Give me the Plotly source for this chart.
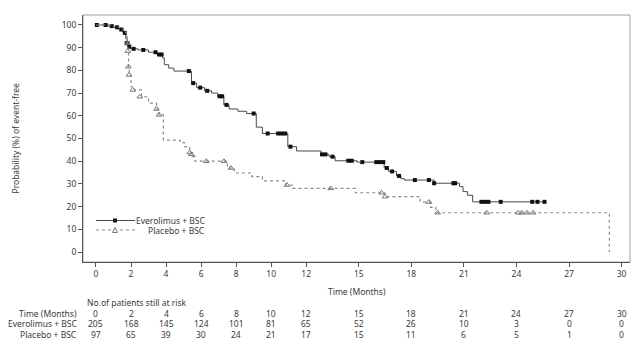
import plotly.graph_objects as go

# ---------------- data ----------------
evero_time = [0, 0.7, 1.0, 1.3, 1.55, 1.7, 1.78, 1.85, 1.95, 2.4, 3.0, 3.5, 3.8, 3.9, 4.15, 4.45,
              5.45, 5.75, 6.2, 6.6, 6.95, 7.3, 7.6, 8.1, 8.6, 9.15, 9.5, 10.95, 11.45, 12.85, 13.3,
              13.65, 14.9, 16.45, 16.7, 17.15, 17.4, 17.6, 19.3, 20.75, 20.95, 21.2, 21.5]
evero_surv = [100, 99.5, 99, 98, 96.5, 94, 92, 90.5, 89.5, 89, 88, 87, 85.5, 82.5, 81, 79.7,
              74.4, 72.4, 71, 70, 68.6, 64.8, 63, 62, 61, 55, 52.2, 46.4, 44.5, 43, 42,
              40.2, 39.6, 37, 35.5, 33.5, 32.3, 31.7, 30.3, 28.8, 26.6, 25, 22.1]
evero_last_followup = 25.6

evero_cens_t = [0.05, 0.55, 0.9, 1.2, 1.45, 1.65, 1.75, 1.8, 1.9, 2.15, 2.7, 3.4, 3.6, 3.75, 5.3, 5.55,
                5.95, 6.35, 7.05, 7.2, 7.45, 9.0, 9.8, 10.4, 10.6, 10.8, 11.1, 12.9, 13.1, 13.5, 14.4,
                14.6, 15.2, 16.0, 16.2, 16.4, 16.6, 16.9, 17.3, 18.2, 19.0, 19.3, 20.4, 20.5, 22.0,
                22.2, 22.4, 23.1, 24.9, 25.2, 25.6]
evero_cens_v = [100, 100, 99.5, 99, 98, 96.5, 92, 92, 90.5, 89.5, 89, 88, 87, 87, 79.7, 74.4,
                72.4, 71, 68.6, 68.6, 64.8, 61, 52.2, 52.2, 52.2, 52.2, 46.4, 43, 43, 42, 40.2,
                40.2, 39.6, 39.6, 39.6, 39.6, 37, 35.5, 33.5, 31.7, 31.7, 30.3, 30.3, 30.3, 22.1,
                22.1, 22.1, 22.1, 22.1, 22.1, 22.1]

placebo_time = [0, 1.0, 1.3, 1.55, 1.7, 1.78, 1.82, 1.86, 1.9, 2.0, 2.2, 2.6, 3.0, 3.45, 3.6, 3.85,
                4.8, 5.05, 5.35, 5.5, 5.65, 7.5, 7.9, 8.9, 9.5, 10.85, 11.2, 14.8, 16.5, 18.5,
                19.1, 19.4, 29.3]
placebo_surv = [100, 99.5, 99, 98, 96.5, 92, 88.5, 81.6, 78, 72.8, 71.4, 68.4, 65.6, 63, 60.4, 49.3,
                48.2, 46.4, 43.8, 42, 40, 37, 34.8, 33.2, 31.3, 29.5, 28, 26.1, 24.4, 22,
                19.7, 17.3, 0]

placebo_cens_t = [1.8, 1.82, 1.85, 1.88, 2.1, 2.5, 3.45, 3.6, 5.35, 5.45, 6.3, 7.3, 7.7, 10.9, 13.4,
                  16.3, 16.5, 19.0, 19.5, 22.3, 24.1, 24.3, 24.6, 24.95]
placebo_cens_v = [92, 88.5, 81.6, 78, 71.4, 68.4, 63, 60.4, 43.8, 43, 40, 40, 37, 29.5, 28,
                  26.1, 24.4, 22, 17.3, 17.3, 17.3, 17.3, 17.3, 17.3]

x_ticks = [0, 2, 4, 6, 8, 10, 12, 15, 18, 21, 24, 27, 30]
y_ticks = [0, 10, 20, 30, 40, 50, 60, 70, 80, 90, 100]
risk_evero = [205, 168, 145, 124, 101, 81, 65, 52, 26, 10, 3, 0, 0]
risk_placebo = [97, 65, 39, 30, 24, 21, 17, 15, 11, 6, 5, 1, 0]

series_names = ["Everolimus + BSC", "Placebo + BSC"]

# ---------------- layout geometry (pixels) ----------------
W, H = 635, 357
L, R, T, B = 83, 630, 15, 262
FONT = "Noto Sans"
FS = 8.5
TXT = "#3a3a3a"


def px(x):
    return (x - L) / (R - L)


def py(y):
    return (B - y) / (B - T)


fig = go.Figure()

fig.add_trace(go.Scatter(
    x=evero_time + [evero_last_followup], y=evero_surv + [evero_surv[-1]],
    mode="lines", line=dict(shape="hv", color="#4a4a4a", width=1),
    showlegend=False, hoverinfo="skip"))
fig.add_trace(go.Scatter(
    x=evero_cens_t, y=evero_cens_v, mode="markers",
    marker=dict(symbol="square", size=4, color="#111111"),
    name=series_names[0], showlegend=False))

fig.add_trace(go.Scatter(
    x=placebo_time, y=placebo_surv,
    mode="lines", line=dict(shape="hv", color="#8a8a8a", width=1.2, dash="dot"),
    showlegend=False, hoverinfo="skip"))
fig.add_trace(go.Scatter(
    x=placebo_cens_t, y=placebo_cens_v, mode="markers",
    marker=dict(symbol="triangle-up-open", size=5, color="#777777", line=dict(width=1)),
    name=series_names[1], showlegend=False))

shapes = []
# light frame
shapes.append(dict(type="rect", xref="paper", yref="paper", x0=0, y0=0, x1=1, y1=1,
                   line=dict(color="#a0a0a0", width=1), layer="below"))
# manual legend
shapes.append(dict(type="line", xref="paper", yref="paper", x0=px(96), x1=px(135),
                   y0=py(220.5), y1=py(220.5), line=dict(color="#4a4a4a", width=1)))
shapes.append(dict(type="rect", xref="paper", yref="paper", x0=px(113), x1=px(117),
                   y0=py(222.5), y1=py(218.5), fillcolor="#111111", line=dict(width=0)))
shapes.append(dict(type="line", xref="paper", yref="paper", x0=px(96), x1=px(135),
                   y0=py(230), y1=py(230), line=dict(color="#8a8a8a", width=1.2, dash="dot")))
shapes.append(dict(type="path", xref="paper", yref="paper",
                   path=f"M {px(112.5)} {py(232.5)} L {px(117.5)} {py(232.5)} L {px(115)} {py(227.5)} Z",
                   fillcolor="white", line=dict(color="#777777", width=1)))

ann = []
ann.append(dict(x=px(207), y=py(220.5), xref="paper", yref="paper", text=series_names[0],
                xanchor="right", yanchor="middle", showarrow=False, font=dict(size=FS, color=TXT)))
ann.append(dict(x=px(207), y=py(230), xref="paper", yref="paper", text=series_names[1],
                xanchor="right", yanchor="middle", showarrow=False, font=dict(size=FS, color=TXT)))

# axis titles
ann.append(dict(x=0.5, y=py(291), xref="paper", yref="paper", text="Time (Months)",
                xanchor="center", yanchor="middle", showarrow=False, font=dict(size=FS, color=TXT)))
ann.append(dict(x=px(15), y=0.5, xref="paper", yref="paper", text="Probability (%) of event-free",
                textangle=-90, xanchor="center", yanchor="middle", showarrow=False,
                font=dict(size=FS, color=TXT)))

# risk table
ann.append(dict(x=px(85), y=py(302), xref="paper", yref="paper", text="No.of patients still at risk",
                xanchor="left", yanchor="middle", showarrow=False, font=dict(size=FS, color=TXT)))
row_labels = ["Time (Months)", series_names[0], series_names[1]]
row_y = [313, 323.5, 334]
row_vals = [x_ticks, risk_evero, risk_placebo]
for lab, yy, vals in zip(row_labels, row_y, row_vals):
    ann.append(dict(x=px(79), y=py(yy), xref="paper", yref="paper", text=lab,
                    xanchor="right", yanchor="middle", showarrow=False, font=dict(size=FS, color=TXT)))
    for t, v in zip(x_ticks, vals):
        ann.append(dict(x=t, y=py(yy), xref="x", yref="paper", text=str(v),
                        xanchor="center", yanchor="middle", showarrow=False,
                        font=dict(size=FS, color=TXT)))

fig.update_layout(
    width=W, height=H,
    margin=dict(l=L, r=W - R, t=T, b=H - B, autoexpand=False),
    paper_bgcolor="white", plot_bgcolor="white",
    font=dict(family=FONT, size=FS, color=TXT),
    shapes=shapes, annotations=ann, showlegend=False,
    xaxis=dict(range=[-0.74, 30.48], tickmode="array", tickvals=x_ticks,
               ticks="outside", ticklen=4, tickcolor="#555555", showline=True,
               linecolor="#555555", linewidth=1, showgrid=False, zeroline=False,
               automargin=False, tickfont=dict(size=FS, color=TXT)),
    yaxis=dict(range=[-4.4, 104.4], tickmode="array", tickvals=y_ticks,
               ticks="outside", ticklen=4, tickcolor="#555555", showline=True,
               linecolor="#555555", linewidth=1, showgrid=False, zeroline=False,
               automargin=False, tickfont=dict(size=FS, color=TXT)),
)

fig.write_html("out.html", config={"displayModeBar": False},
               post_script="document.body.style.margin='0';document.body.style.overflow='hidden';")
